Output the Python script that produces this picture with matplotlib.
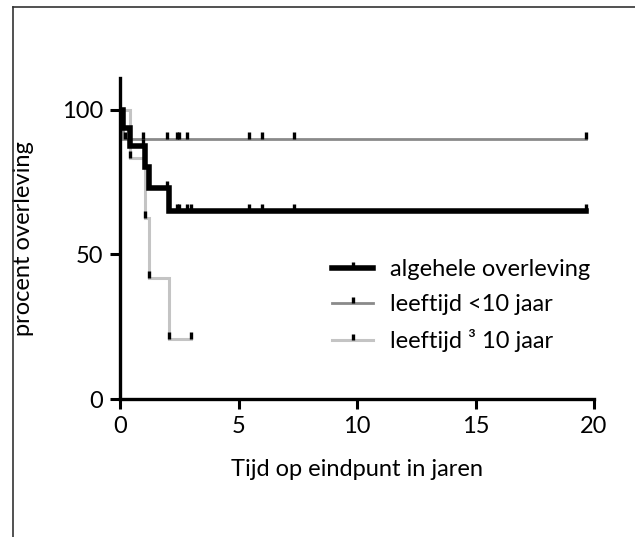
import numpy as np
import matplotlib
matplotlib.use("Agg")
import matplotlib.pyplot as plt
from matplotlib.lines import Line2D
from matplotlib.path import Path

plt.rcParams['font.family'] = ['Lato', 'DejaVu Sans']

# ---- data (Kaplan-Meier steps) ----
overall_t = [0, 0.14, 0.42, 1.05, 1.24, 2.07, 19.65]
overall_s = [100, 93.75, 87.5, 80.2, 72.9, 64.9, 64.9]
overall_cens = [0.98, 1.99, 2.39, 2.5, 2.84, 3.0, 5.44, 6.0, 7.34, 19.65]

young_t = [0, 0.14, 19.65]
young_s = [100, 90.0, 90.0]
young_cens = [0.2, 0.98, 1.99, 2.39, 2.5, 2.84, 5.44, 6.0, 7.34, 19.65]

old_t = [0, 0.42, 1.05, 1.24, 2.07, 3.0]
old_s = [100, 83.3, 62.5, 41.7, 20.8, 20.8]
old_cens = [0.42, 1.05, 1.24, 2.07, 3.0]

labels = ["algehele overleving", "leeftijd <10 jaar", "leeftijd \u00b3 10 jaar"]
xticks = [0, 5, 10, 15, 20]
yticks = [0, 50, 100]

def step_val(t, ts, ss):
    idx = np.searchsorted(ts, t, side='right') - 1
    return ss[max(idx, 0)]

tick_marker = Path([(0, 0), (0, 1)], [Path.MOVETO, Path.LINETO])
FS = 17

fig = plt.figure(figsize=(6.35, 5.37), dpi=100)
# outer frame (left and top lines)
fig.add_artist(Line2D([13/635, 13/635], [0, 1 - 7/537], transform=fig.transFigure, color='#333333', lw=1.2))
fig.add_artist(Line2D([13/635, 1], [1 - 7/537, 1 - 7/537], transform=fig.transFigure, color='#333333', lw=1.2))

ax = fig.add_axes([120/635, 1 - 399/537, (594 - 120)/635, (399 - 78)/537])

series = [
    (old_t, old_s, old_cens, '#c4c4c4', 2.2),
    (young_t, young_s, young_cens, '#8a8a8a', 2.0),
    (overall_t, overall_s, overall_cens, '#000000', 4.0),
]
for ts, ss, cens, col, lw in series:
    ax.step(ts, ss, where='post', color=col, lw=lw, solid_joinstyle='miter', zorder=2)
    cy = [step_val(c, ts, ss) for c in cens]
    ax.plot(cens, cy, linestyle='none', marker=tick_marker, markersize=10,
            markeredgewidth=2.4, color='black', zorder=3)

ax.set_xlim(0, 20)
ax.set_ylim(0, 111)
ax.set_xticks(xticks)
ax.set_yticks(yticks)
for s in ['top', 'right']:
    ax.spines[s].set_visible(False)
for s in ['left', 'bottom']:
    ax.spines[s].set_linewidth(2.4)
ax.tick_params(axis='both', width=2.2, length=7, labelsize=FS, pad=5)
ax.set_xlabel("Tijd op eindpunt in jaren", fontsize=FS, labelpad=16)
ax.set_ylabel("procent overleving", fontsize=FS, labelpad=20)

handles = [
    Line2D([], [], color='black', lw=4.0, marker=tick_marker, markersize=8, markeredgewidth=2.4, markeredgecolor='black'),
    Line2D([], [], color='#8a8a8a', lw=2.0, marker=tick_marker, markersize=8, markeredgewidth=2.4, markeredgecolor='black'),
    Line2D([], [], color='#c4c4c4', lw=2.2, marker=tick_marker, markersize=8, markeredgewidth=2.4, markeredgecolor='black'),
]
fig.legend(handles, labels, loc='upper left', bbox_to_anchor=(325/635, 1 - 252/537),
           frameon=False, fontsize=FS, handlelength=1.75, handletextpad=0.7,
           labelspacing=0.6, numpoints=1, borderaxespad=0, borderpad=0.3)

fig.savefig("out.png", dpi=100)
